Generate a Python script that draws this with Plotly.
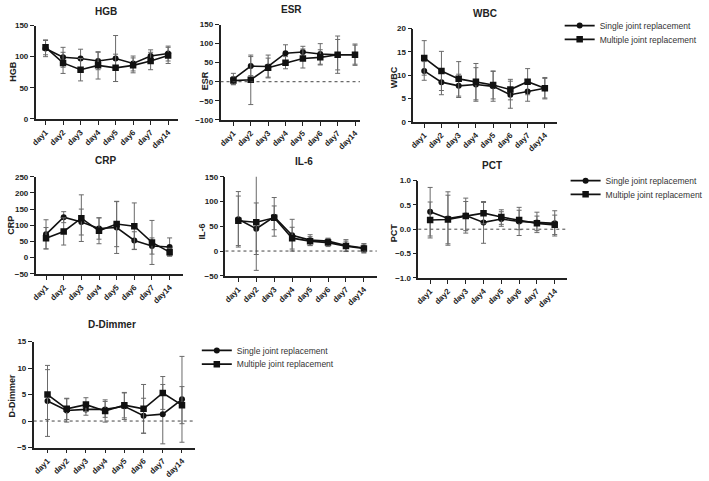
import plotly.graph_objects as go

W, H = 709, 481
days = ["day1", "day2", "day3", "day4", "day5", "day6", "day7", "day14"]

# ---- data (mean, sd) ----
hgb_single = [113, 99, 97, 93, 97, 89, 101, 105]
hgb_single_sd = [13, 16, 15, 14, 37, 12, 10, 12]
hgb_multi = [115, 90, 79, 86, 82, 86, 93, 102]
hgb_multi_sd = [12, 17, 18, 22, 22, 12, 14, 13]

esr_single = [7, 41, 40, 75, 78, 73, 71, 71]
esr_single_sd = [15, 25, 30, 22, 15, 27, 40, 25]
esr_multi = [3, 5, 37, 50, 61, 64, 71, 71]
esr_multi_sd = [10, 65, 25, 16, 25, 20, 49, 28]

wbc_single = [10.9, 8.5, 7.7, 8.0, 7.6, 5.8, 6.5, 7.2]
wbc_single_sd = [2.0, 2.7, 2.5, 3.6, 3.2, 2.9, 2.1, 2.1]
wbc_multi = [13.7, 10.9, 9.2, 8.6, 7.9, 6.9, 8.6, 7.2]
wbc_multi_sd = [3.7, 4.2, 3.7, 3.9, 3.0, 2.2, 2.8, 2.3]

crp_single = [72, 125, 110, 90, 93, 53, 36, 33]
crp_single_sd = [45, 17, 40, 33, 80, 27, 25, 28]
crp_multi = [60, 81, 122, 83, 104, 97, 47, 17]
crp_multi_sd = [33, 42, 72, 40, 70, 72, 68, 12]

il6_single = [64, 45, 69, 32, 22, 20, 11, 6]
il6_single_sd = [56, 52, 39, 32, 11, 6, 12, 9]
il6_multi = [61, 58, 67, 26, 20, 17, 10, 5]
il6_multi_sd = [50, 97, 24, 22, 9, 8, 10, 9]

pct_single = [0.36, 0.22, 0.28, 0.14, 0.21, 0.16, 0.14, 0.12]
pct_single_sd = [0.50, 0.55, 0.36, 0.43, 0.15, 0.29, 0.21, 0.26]
pct_multi = [0.19, 0.20, 0.27, 0.33, 0.25, 0.19, 0.12, 0.09]
pct_multi_sd = [0.37, 0.50, 0.30, 0.22, 0.15, 0.20, 0.15, 0.20]

dd_single = [3.8, 2.0, 2.2, 2.2, 2.8, 1.0, 1.3, 4.1]
dd_single_sd = [6.7, 2.2, 1.1, 1.5, 2.5, 3.3, 5.6, 8.1]
dd_multi = [5.0, 2.3, 3.1, 1.9, 3.0, 2.3, 5.3, 3.0]
dd_multi_sd = [4.7, 2.0, 1.3, 2.1, 2.4, 4.6, 3.1, 3.5]

SERIES_NAMES = ["Single joint replacement", "Multiple joint replacement"]

# ---- layout (pixel geometry) ----
# name, single, single_sd, multi, multi_sd, left, right, day1px, day14px, top, bottom, yrange, dtick, zero line, legend row
panels = [
    ("HGB", hgb_single, hgb_single_sd, hgb_multi, hgb_multi_sd, 31, 175, 41, 165, 22, 117, [0, 150], 50, False, 0),
    ("ESR", esr_single, esr_single_sd, esr_multi, esr_multi_sd, 218, 359, 231, 354, 21, 118, [-100, 150], 50, True, 0),
    ("WBC", wbc_single, wbc_single_sd, wbc_multi, wbc_multi_sd, 413, 558, 424, 546, 25, 120, [0, 20], 5, False, 0),
    ("CRP", crp_single, crp_single_sd, crp_multi, crp_multi_sd, 31, 180, 41.5, 166.5, 176, 275, [-50, 250], 50, False, 1),
    ("IL-6", il6_single, il6_single_sd, il6_multi, il6_multi_sd, 223, 376, 236, 363, 176, 277, [-50, 150], 50, True, 1),
    ("PCT", pct_single, pct_single_sd, pct_multi, pct_multi_sd, 418, 568, 430, 556, 180, 279, [-1, 1], 0.5, True, 1),
    ("D-Dimmer", dd_single, dd_single_sd, dd_multi, dd_multi_sd, 29, 192, 43, 179, 344, 452, [-5, 15], 5, True, 2),
]

titles = [(102, 8), (290, 6), (485, 10), (102, 159), (302, 161), (493, 165), (108, 327)]
ytitles = [(8, 68), (202, 78), (393, 75), (6, 225), (199, 232), (393, 233), (7, 399)]
# legend rows: (text-start x, row1 centre y, row2 centre y)
legend_rows = [(603, 22, 36), (609, 180, 194), (236, 353, 367)]

FONT = "Liberation Sans, Arial, sans-serif"
fig = go.Figure()
shown = set()

for i, (name, s, ssd, m, msd, left, right, d1, d14, top, bot, yr, dt, zl, row) in enumerate(panels):
    k = "" if i == 0 else str(i + 1)
    sp = (d14 - d1) / 7.0
    xr = [(left - d1) / sp, (right - d1) / sp]
    xs = list(range(len(days)))
    for j, (vals, sds, sym) in enumerate([(s, ssd, "circle"), (m, msd, "square")]):
        lg_idx = row * 2 + j + 1
        leg = "legend" if lg_idx == 1 else "legend" + str(lg_idx)
        fig.add_trace(go.Scatter(
            x=xs, y=vals, xaxis="x" + k, yaxis="y" + k,
            mode="lines+markers", name=SERIES_NAMES[j],
            line=dict(color="#111111", width=1.6),
            marker=dict(symbol=sym, size=6 if sym == "circle" else 6.5, color="#111111"),
            error_y=dict(type="data", array=sds, visible=True, color="#6a6a6a", thickness=1, width=2.5),
            legend=leg, showlegend=leg not in shown,
        ))
        shown.add(leg)
    ax = dict(
        domain=[left / W, right / W], range=xr, tickmode="array", tickvals=xs, ticktext=days,
        tickangle=-45, showgrid=False, zeroline=False, showline=True, linecolor="#222", linewidth=1.5,
        ticks="outside", ticklen=4, tickwidth=1.2, tickcolor="#222",
        tickfont=dict(family=FONT, size=8, color="#222", weight="bold"), anchor="y" + k, fixedrange=True,
    )
    ay = dict(
        domain=[1 - bot / H, 1 - top / H], range=yr, dtick=dt, tick0=0, showgrid=False, zeroline=False,
        showline=True, linecolor="#222", linewidth=1.5, ticks="outside", ticklen=4, tickwidth=1.2, tickcolor="#222",
        tickfont=dict(family=FONT, size=8, color="#222", weight="bold"), anchor="x" + k, fixedrange=True,
    )
    if name == "PCT":
        ay["tickformat"] = ".1f"
    fig.layout["xaxis" + k] = ax
    fig.layout["yaxis" + k] = ay
    if zl:
        fig.add_shape(type="line", xref="x" + k + " domain", yref="y" + k, x0=0, x1=1, y0=0, y1=0,
                      line=dict(color="#444", width=1, dash="dot"))
    tx, ty = titles[i]
    fig.add_annotation(x=tx / W, y=1 - ty / H, xref="paper", yref="paper", text="<b>" + name + "</b>",
                       showarrow=False, font=dict(family=FONT, size=10, color="#222"), xanchor="center", yanchor="middle")
    yx, yy = ytitles[i]
    fig.add_annotation(x=yx / W, y=1 - yy / H, xref="paper", yref="paper", text="<b>" + name + "</b>",
                       showarrow=False, textangle=-90, font=dict(family=FONT, size=9, color="#222"),
                       xanchor="center", yanchor="middle")

legfont = dict(family=FONT, size=8.5, color="#333")
legends = {}
for r, (tx, y1, y2) in enumerate(legend_rows):
    for j, yc in enumerate([y1, y2]):
        idx = r * 2 + j + 1
        key = "legend" if idx == 1 else "legend" + str(idx)
        legends[key] = dict(x=(tx - 42) / W, y=1 - yc / H, xanchor="left", yanchor="middle", font=legfont,
                            bgcolor="rgba(0,0,0,0)", tracegroupgap=0, itemwidth=30)

fig.update_layout(width=W, height=H, margin=dict(l=0, r=0, t=0, b=0),
                  paper_bgcolor="white", plot_bgcolor="white", **legends)

fig.write_html("out.html")
